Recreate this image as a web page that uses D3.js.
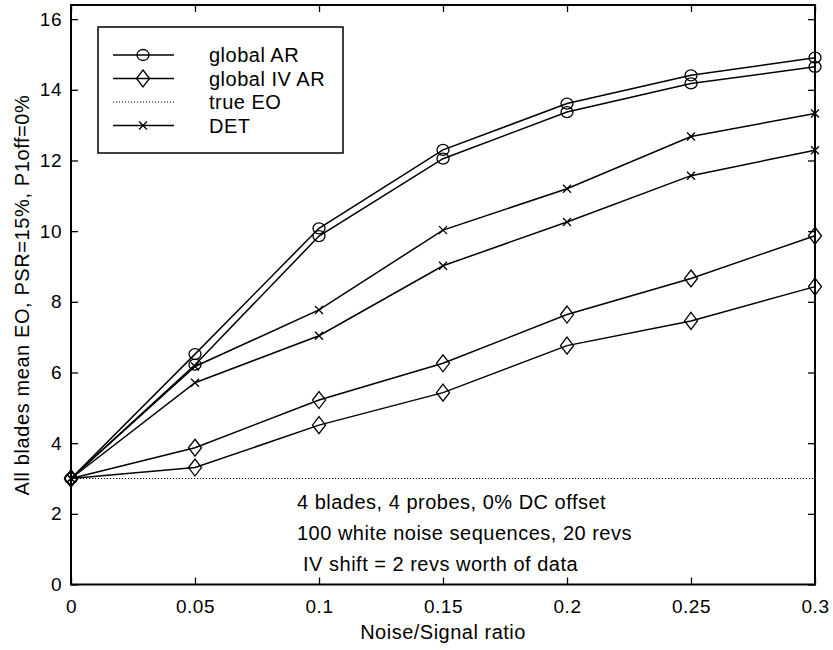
<!DOCTYPE html>
<html>
<head>
<meta charset="utf-8">
<script src="https://cdn.jsdelivr.net/npm/d3@7"></script>
<style>
  body { margin: 0; background: #fff; }
  text { font-family: 'Liberation Sans', Arial, sans-serif; fill: #000; }
</style>
</head>
<body>
<svg width="833" height="650"></svg>
<script>
// data
const noise = [0, 0.05, 0.1, 0.15, 0.2, 0.25, 0.3];
const globalAR1 = [3.0, 6.52, 10.08, 12.30, 13.61, 14.41, 14.91];
const globalAR2 = [3.0, 6.22, 9.86, 12.05, 13.37, 14.18, 14.65];
const globalIVAR1 = [3.0, 3.87, 5.22, 6.26, 7.64, 8.66, 9.87];
const globalIVAR2 = [3.0, 3.31, 4.51, 5.43, 6.76, 7.46, 8.43];
const det1 = [3.0, 6.17, 7.77, 10.03, 11.20, 12.68, 13.33];
const det2 = [3.0, 5.71, 7.04, 9.02, 10.26, 11.57, 12.29];
const trueEO = 3.0;

const xTicks = [0, 0.05, 0.1, 0.15, 0.2, 0.25, 0.3];
const yTicks = [0, 2, 4, 6, 8, 10, 12, 14, 16];
const legendNames = ['global AR', 'global IV AR', 'true EO', 'DET'];
const notes = ['4 blades, 4 probes, 0% DC offset', '100 white noise sequences, 20 revs', ' IV shift = 2 revs worth of data'];

const svg = d3.select('svg');
const margin = { top: 5, right: 18, bottom: 65.5, left: 71 };
const width = 833 - margin.left - margin.right;
const height = 650 - margin.top - margin.bottom;

const g = svg.append('g')
    .attr('transform', `translate(${margin.left},${margin.top})`);

const x = d3.scaleLinear().domain([0, 0.3]).range([0, width]);
const y = d3.scaleLinear().domain([0, 16.4]).range([height, 0]);

// axes with inward ticks on all four sides
const tickLen = 7;
g.append('g')
    .attr('transform', `translate(0,${height})`)
    .call(d3.axisBottom(x).tickValues(xTicks).tickSize(-tickLen).tickPadding(15).tickFormat(d3.format('')))
    .call(a => a.selectAll('text').attr('font-size', 19).style('letter-spacing', '0.5px'));
g.append('g')
    .call(d3.axisTop(x).tickValues(xTicks).tickSize(-tickLen).tickFormat(''));
g.append('g')
    .call(d3.axisLeft(y).tickValues(yTicks).tickSize(-tickLen).tickPadding(9))
    .call(a => a.selectAll('text').attr('font-size', 19).style('letter-spacing', '0.5px'));
g.append('g')
    .attr('transform', `translate(${width},0)`)
    .call(d3.axisRight(y).tickValues(yTicks).tickSize(-tickLen).tickFormat(''));

g.selectAll('.domain').remove();
g.selectAll('.tick line').attr('stroke', '#000').attr('stroke-width', 1.3);
g.append('rect')
    .attr('width', width)
    .attr('height', height)
    .attr('fill', 'none')
    .attr('stroke', '#000')
    .attr('stroke-width', 2);

// true EO dotted line
g.append('line')
    .attr('x1', x(0)).attr('x2', x(0.3))
    .attr('y1', y(trueEO)).attr('y2', y(trueEO))
    .attr('stroke', '#000')
    .attr('stroke-width', 1.2)
    .attr('stroke-dasharray', '1.2,1.8');

const line = d3.line()
    .x((d, i) => x(noise[i]))
    .y(d => y(d));

const series = [
  { values: globalAR1, marker: 'circle' },
  { values: globalAR2, marker: 'circle' },
  { values: globalIVAR1, marker: 'diamond' },
  { values: globalIVAR2, marker: 'diamond' },
  { values: det1, marker: 'cross' },
  { values: det2, marker: 'cross' }
];

const drawMarker = (sel, type) => {
  if (type === 'circle') {
    sel.append('ellipse').attr('rx', 6).attr('ry', 5.5);
  } else if (type === 'diamond') {
    sel.append('path').attr('d', 'M0,-8.5L6.5,0L0,8.5L-6.5,0Z');
  } else if (type === 'cross') {
    sel.append('path').attr('d', 'M-4,-4L4,4M-4,4L4,-4');
  }
  sel.selectAll('*')
      .attr('fill', 'none')
      .attr('stroke', '#000')
      .attr('stroke-width', 1.3);
};

series.forEach(s => {
  g.append('path')
      .datum(s.values)
      .attr('d', line)
      .attr('fill', 'none')
      .attr('stroke', '#000')
      .attr('stroke-width', 1.5);

  g.selectAll(null)
      .data(s.values)
      .enter().append('g')
        .attr('transform', (d, i) => `translate(${x(noise[i])},${y(d)})`)
        .each(function () { drawMarker(d3.select(this), s.marker); });
});

// annotation
g.selectAll('text.note')
    .data(notes)
    .enter().append('text')
      .attr('class', 'note')
      .attr('x', 226)
      .attr('y', (d, i) => 504 + i * 31)
      .attr('font-size', 20)
      .style('letter-spacing', '0.5px')
      .style('white-space', 'pre')
      .text(d => d);

// legend
const legend = g.append('g').attr('transform', 'translate(27,22)');
legend.append('rect')
    .attr('width', 245)
    .attr('height', 126)
    .attr('fill', '#fff')
    .attr('stroke', '#000')
    .attr('stroke-width', 1.5);

const legendMarkers = ['circle', 'diamond', 'none', 'cross'];
const rows = legend.selectAll('g.row')
    .data(legendNames)
    .enter().append('g')
      .attr('transform', (d, i) => `translate(0,${28 + i * 23.5})`);

rows.append('line')
    .attr('x1', 15).attr('x2', 76)
    .attr('stroke', '#000')
    .attr('stroke-width', (d, i) => i === 2 ? 1.2 : 1.5)
    .attr('stroke-dasharray', (d, i) => i === 2 ? '1.2,1.8' : null);

rows.each(function (d, i) {
  if (legendMarkers[i] === 'none') return;
  const m = d3.select(this).append('g').attr('transform', 'translate(45,0)');
  drawMarker(m, legendMarkers[i]);
});

rows.append('text')
    .attr('x', 111)
    .attr('dy', '0.35em')
    .attr('font-size', 20)
    .style('letter-spacing', '0.5px')
    .text(d => d);

// axis titles
svg.append('text')
    .attr('x', margin.left + width / 2)
    .attr('y', 639)
    .attr('text-anchor', 'middle')
    .attr('font-size', 20)
    .style('letter-spacing', '0.5px')
    .text('Noise/Signal ratio');

svg.append('text')
    .attr('transform', `translate(29,${margin.top + 290}) rotate(-90)`)
    .attr('text-anchor', 'middle')
    .attr('font-size', 20)
    .style('letter-spacing', '0.6px')
    .text('All blades mean EO, PSR=15%, P1off=0%');
</script>
</body>
</html>
